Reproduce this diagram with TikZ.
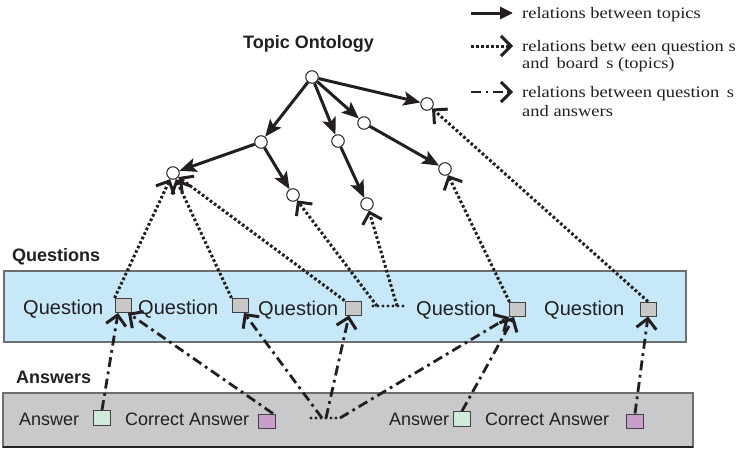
\documentclass[tikz,border=0pt]{standalone}
\usepackage{fontspec}
\usepackage{graphicx}
\setmainfont{Liberation Serif}
\setsansfont{Liberation Sans}
\usetikzlibrary{arrows.meta}

\definecolor{ink}{HTML}{231F20}
\definecolor{qfill}{HTML}{C6E8F8}
\definecolor{afill}{HTML}{C9C9CB}
\definecolor{boxline}{HTML}{6E6E6E}
\definecolor{sqgray}{HTML}{C8C8C8}
\definecolor{ansgreen}{HTML}{CFEAD8}
\definecolor{anspurple}{HTML}{C69FCB}

% wide-set legend text
\newcommand{\lgdtext}[1]{\scalebox{1.155}[1]{#1}}

\begin{document}
\begin{tikzpicture}[x=1pt,y=-1pt,
  topic/.style={circle, draw=ink, line width=1pt, fill=white,
    minimum size=12.5pt, inner sep=0pt},
  qsq/.style={rectangle, draw=ink!85, line width=0.9pt, fill=sqgray,
    minimum width=16pt, minimum height=14pt, inner sep=0pt},
  asq/.style={qsq, fill=ansgreen, minimum width=17pt, minimum height=15pt},
  csq/.style={qsq, fill=anspurple, minimum width=17pt, minimum height=14pt},
  heading/.style={font=\sffamily\bfseries\fontsize{18}{20}\selectfont,
    anchor=base west, inner sep=0pt, text=ink},
  qitem/.style={font=\sffamily\fontsize{20}{24}\selectfont,
    anchor=base west, inner sep=0pt, text=ink},
  aitem/.style={font=\sffamily\fontsize{18}{22}\selectfont,
    anchor=base west, inner sep=0pt, text=ink},
  lgd/.style={font=\fontsize{16}{20}\selectfont,
    anchor=base west, inner sep=0pt, text=ink},
  barb/.style={-{Straight Barb[length=10pt,width=20pt,line width=3pt]}},
  rel/.style={draw=ink, line width=3pt,
    -{Stealth[length=17pt,width=14pt,inset=3.5pt]}},
  qrel/.style={draw=ink, line width=3pt, dash pattern=on 2.7pt off 2.3pt,
    barb},
  arel/.style={draw=ink, line width=2.8pt,
    dash pattern=on 10pt off 4.5pt on 2.8pt off 4.5pt, barb},
  joindots/.style={draw=ink, line width=3.2pt, line cap=round,
    dash pattern=on 0pt off 5pt},
]
\useasboundingbox (0,0) rectangle (736,450);

% ---------- bands ----------
\fill[qfill] (4,271) rectangle (686,342);
\draw[boxline, line width=1.2pt] (4,271) rectangle (686,342);
\fill[afill] (3,393) rectangle (693,447);
\draw[boxline, line width=1.2pt] (3,393) rectangle (693,447);
\draw[ink, line width=1.2pt] (3,447) -- (693,447);

% ---------- headings ----------
\node[heading] (hTopic) at (243,48) {Topic Ontology};
\node[heading] (hQuest) at (12,261) {Questions};
\node[heading] (hAns) at (16,383) {Answers};

% ---------- topic tree ----------
\node[topic] (root) at (312,77) {};
\node[topic] (rt)   at (427,104) {};
\node[topic] (mr)   at (364,123) {};
\node[topic] (ce)   at (338,141) {};
\node[topic] (lm)   at (261,142) {};
\node[topic] (fl)   at (173,173) {};
\node[topic] (ulm)  at (293,195) {};
\node[topic] (uce)  at (367,204) {};
\node[topic] (umr)  at (445,169) {};

\draw[rel] (root) -- (rt);
\draw[rel] (root) -- (mr);
\draw[rel] (root) -- (ce);
\draw[rel] (root) -- (lm);
\draw[rel] (lm) -- (fl);
\draw[rel] (lm) -- (ulm);
\draw[rel] (ce) -- (uce);
\draw[rel] (mr) -- (umr);

% ---------- questions ----------
\node[qitem] (q1t) at (23,314) {Question};
\node[qsq]   (q1)  at (123,305.5) {};
\node[qitem] (q2t) at (138,314) {Question};
\node[qsq]   (q2)  at (240,305.5) {};
\node[qitem] (q3t) at (258,315) {Question};
\node[qsq]   (q3)  at (353,308) {};
\node[qitem] (q4t) at (416,315) {Question};
\node[qsq]   (q4)  at (517,309.5) {};
\node[qitem] (q5t) at (544,315) {Question};
\node[qsq]   (q5)  at (648,309) {};

% ---------- answers ----------
\node[aitem] (a1t)  at (19,425) {Answer};
\node[asq]   (a1)   at (102,418) {};
\node[aitem] (c1t)  at (125,425) {Correct Answer};
\node[csq]   (c1)   at (267,421) {};
\node[aitem] (a2t)  at (389,425) {Answer};
\node[asq]   (a2)   at (462,419) {};
\node[aitem] (c2t)  at (485,425) {Correct Answer};
\node[csq]   (c2)   at (635,421) {};

% ---------- questions -> topics ----------
\coordinate (k0) at (373,306);
\coordinate (k1) at (377,306);
\coordinate (k2) at (397,306);
\coordinate (k3) at (403,306);
\draw[joindots] (k0) -- (k3);
\draw[qrel] (q1.north west) -- (fl);
\draw[qrel] (q2.north west) -- (fl);
\draw[qrel] (q3.north west) -- (fl);
\draw[qrel] (k1) -- (ulm);
\draw[qrel] (k2) -- (uce);
\draw[qrel] ([xshift=1pt]q4.north west) -- (umr);
\draw[qrel] (q5.north) -- (rt);

% ---------- answers -> questions ----------
\coordinate (j0) at (311,418);
\coordinate (j1) at (322,418);
\coordinate (j2) at (326,418);
\coordinate (j3) at (340,418);
\draw[joindots] (j0) -- (j3);
\draw[arel] (a1.north) -- ([xshift=-5pt]q1.south);
\draw[arel] ([xshift=-3pt]c1.north east) -- ([xshift=5pt]q1.south);
\draw[arel] (j1) -- ([xshift=4pt]q2.south);
\draw[arel] (j2) -- ([xshift=-4pt]q3.south);
\draw[arel] (j3) -- ([xshift=-8pt]q4.south);
\draw[arel] (a2.north) -- ([xshift=-3pt]q4.south);
\draw[arel] (c2.north) -- (q5.south);

% ---------- legend ----------
\coordinate (ls1) at (471,13);  \coordinate (le1) at (513,13);
\coordinate (ls2) at (471,46);  \coordinate (le2) at (513,46);
\coordinate (ls3) at (471,92);  \coordinate (le3) at (513,92);
\draw[ink, line width=3pt, -{Triangle[length=13pt,width=12pt]}] (ls1) -- (le1);
\draw[qrel] (ls2) -- (le2);
\draw[arel] (ls3) -- (le3);
\node[lgd] (lg1)  at (522,18)  {\lgdtext{relations between topics}};
\node[lgd] (lg2a) at (522,51)  {\lgdtext{relations betw een question s}};
\node[lgd] (lg2b) at (522,68)  {\lgdtext{and\, board\, s (topics)}};
\node[lgd] (lg3a) at (522,97)  {\lgdtext{relations between question\, s}};
\node[lgd] (lg3b) at (522,116) {\lgdtext{and answers}};
\end{tikzpicture}
\end{document}
